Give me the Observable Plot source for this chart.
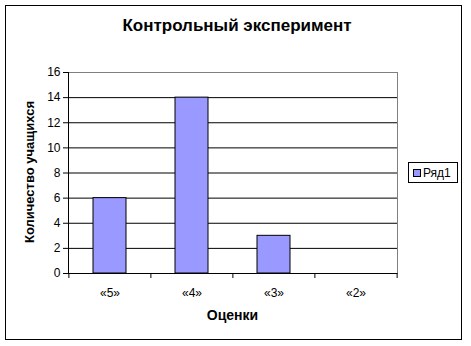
<!DOCTYPE html>
<html>
<head>
<meta charset="utf-8">
<script src="https://cdn.jsdelivr.net/npm/d3@7"></script>
<script src="https://cdn.jsdelivr.net/npm/@observablehq/plot@0.6"></script>
<style>
  body { margin: 0; background: #fff; }
  #wrap { position: relative; width: 471px; height: 346px; font-family: "Liberation Sans", Arial, sans-serif; }
  #frame { position: absolute; left: 5px; top: 5px; width: 457px; height: 335px; border: 1px solid #000; box-sizing: border-box; }
  #title { position: absolute; left: 0; width: 474px; top: 16px; text-align: center; font-weight: bold; font-size: 17px; }
  #ylab { position: absolute; left: 29px; top: 172px; transform: translate(-50%, -50%) rotate(-90deg); white-space: nowrap; font-weight: bold; font-size: 13px; }
  #xlab { position: absolute; left: 68px; width: 329px; top: 307px; text-align: center; font-weight: bold; font-size: 14px; }
  #legend { position: absolute; left: 408px; top: 162px; width: 50px; height: 21px; border: 1px solid #000; box-sizing: border-box; font-size: 12px; display: flex; align-items: center; }
  #legend .sw { width: 8px; height: 8px; background: #9999FF; border: 1px solid #000; box-sizing: border-box; margin-left: 4px; margin-right: 2px; }
  #chart { position: absolute; left: 0; top: 0; }
</style>
</head>
<body>
<div id="wrap">
  <div id="frame"></div>
  <div id="chart"></div>
  <div id="title">Контрольный эксперимент</div>
  <div id="ylab">Количество учащихся</div>
  <div id="xlab">Оценки</div>
  <div id="legend"><span class="sw"></span><span id="legtext"></span></div>
</div>
<script>
const grades = ["«5»", "«4»", "«3»", "«2»"];
const counts = [6, 14, 3, 0];
const seriesName = "Ряд1";
const yTicks = [0, 2, 4, 6, 8, 10, 12, 14, 16];
const gridTicks = [2, 4, 6, 8, 10, 12, 14];

const data = grades.map((g, i) => ({grade: g, count: counts[i]}));

const W = 471, H = 346, mL = 68, mR = 74, mT = 72, mB = 73;
const step = (W - mL - mR) / grades.length;

document.getElementById("legtext").textContent = seriesName;

const chart = Plot.plot({
  width: W,
  height: H,
  marginLeft: mL,
  marginRight: mR,
  marginTop: mT,
  marginBottom: mB,
  style: {fontFamily: "'Liberation Sans', Arial, sans-serif", fontSize: "12px", background: "transparent", color: "#000"},
  x: {type: "band", domain: grades, paddingInner: 0.6, paddingOuter: 0.3},
  y: {domain: [0, 16]},
  marks: [
    Plot.frame({stroke: "#808080", strokeOpacity: 1}),
    Plot.frame({anchor: "left", stroke: "#000", strokeOpacity: 1}),
    Plot.ruleY(gridTicks, {stroke: "#000", strokeWidth: 1}),
    Plot.barY(data, {x: "grade", y: "count", fill: "#9999FF", stroke: "#000", strokeWidth: 1}),
    Plot.ruleY([0], {stroke: "#000"}),
    Plot.axisY({ticks: yTicks, tickSize: 5, tickPadding: 3, label: null, fontSize: 12, stroke: "#000"}),
    Plot.axisX({tickSize: 0, tickPadding: 15, label: null, fontSize: 12}),
    Plot.axisX({ticks: grades, text: null, tickSize: 5, dx: -step / 2, label: null, stroke: "#000"}),
    Plot.axisX({ticks: grades.slice(-1), text: null, tickSize: 5, dx: step / 2, label: null, stroke: "#000"})
  ]
});
document.getElementById("chart").appendChild(chart);
</script>
</body>
</html>
